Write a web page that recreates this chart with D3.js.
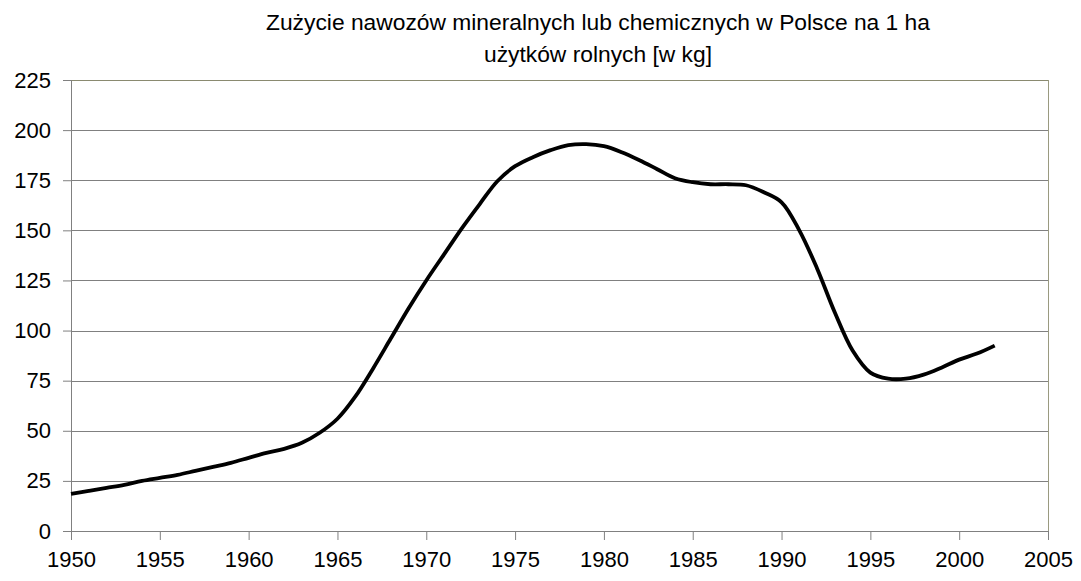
<!DOCTYPE html>
<html>
<head>
<meta charset="utf-8">
<script src="https://cdn.jsdelivr.net/npm/d3@7"></script>
<style>
  body { margin: 0; background: #fff; }
  text { font-family: "Liberation Sans", Arial, sans-serif; fill: #000; }
</style>
</head>
<body>
<div id="chart"></div>
<script>
// data
var years = [1950, 1951, 1952, 1953, 1954, 1955, 1956, 1957, 1958, 1959,
             1960, 1961, 1962, 1963, 1964, 1965, 1966, 1967, 1968, 1969,
             1970, 1971, 1972, 1973, 1974, 1975, 1976, 1977, 1978, 1979,
             1980, 1981, 1982, 1983, 1984, 1985, 1986, 1987, 1988, 1989,
             1990, 1991, 1992, 1993, 1994, 1995, 1996, 1997, 1998, 1999,
             2000, 2001, 2002];
var values = [18.5, 20, 21.5, 23, 25, 26.5, 28, 30, 32, 34,
              36.5, 39, 41, 44, 49, 56, 67, 81, 96, 111,
              125, 138, 151, 163, 174.5, 182, 186.5, 190, 192.5, 193,
              192, 189, 185, 180.5, 176, 174, 173, 173, 172.5, 169,
              164, 150, 131, 109, 90, 79, 76, 76, 78, 81.5,
              85.5, 88.5, 92.5];
var yTicks = [0, 25, 50, 75, 100, 125, 150, 175, 200, 225];
var xTicks = [1950, 1955, 1960, 1965, 1970, 1975, 1980, 1985, 1990, 1995, 2000, 2005];
var titleLines = ["Zużycie nawozów mineralnych lub chemicznych w Polsce na 1 ha",
                  "użytków rolnych [w kg]"];

var W = 1081, H = 581;
var margin = { top: 80, right: 33, bottom: 50, left: 71 };
var width = W - margin.left - margin.right;
var height = H - margin.top - margin.bottom;

var svg = d3.select("#chart").append("svg")
  .attr("width", W).attr("height", H);

var g = svg.append("g")
  .attr("transform", "translate(" + margin.left + "," + margin.top + ")");

var x = d3.scaleLinear().domain([1950, 2005]).range([0, width]);
var y = d3.scaleLinear().domain([0, 225]).range([height, 0]);

// gridlines
g.selectAll(".grid")
  .data(yTicks.filter(function (d) { return d > 0; }))
  .enter().append("line")
  .attr("x1", 0).attr("x2", width)
  .attr("y1", function (d) { return Math.round(y(d)) + 0.5; })
  .attr("y2", function (d) { return Math.round(y(d)) + 0.5; })
  .attr("stroke", function (d) { return d == 225 ? "#8a8a70" : "#808080"; })
  .attr("stroke-width", 1);

// right border of plot area
g.append("line")
  .attr("x1", Math.round(width) + 0.5).attr("x2", Math.round(width) + 0.5)
  .attr("y1", 0).attr("y2", height)
  .attr("stroke", "#9a9a80");

// y axis
var yAxis = g.append("g")
  .call(d3.axisLeft(y).tickValues(yTicks).tickSize(8).tickPadding(12));
// x axis
var xAxis = g.append("g")
  .attr("transform", "translate(0," + height + ")")
  .call(d3.axisBottom(x).tickValues(xTicks).tickFormat(d3.format("d")).tickSize(9).tickPadding(11));

[yAxis, xAxis].forEach(function (a) {
  a.select(".domain").attr("stroke", "#808080");
  a.selectAll(".tick line").attr("stroke", "#808080");
  a.selectAll(".tick text")
    .style("font-family", '"Liberation Sans", Arial, sans-serif')
    .style("font-size", "22px")
    .attr("fill", "#000");
});

// line
var line = d3.line()
  .x(function (d, i) { return x(years[i]); })
  .y(function (d) { return y(d); })
  .curve(d3.curveCatmullRom.alpha(0.5));

g.append("path")
  .datum(values)
  .attr("d", line)
  .attr("fill", "none")
  .attr("stroke", "#000")
  .attr("stroke-width", 3.8)
  .attr("stroke-linejoin", "round");

// title
svg.selectAll(".title")
  .data(titleLines)
  .enter().append("text")
  .attr("x", 598)
  .attr("y", function (d, i) { return 30 + i * 32; })
  .attr("text-anchor", "middle")
  .style("font-size", "22.8px")
  .text(function (d) { return d; });
</script>
</body>
</html>
